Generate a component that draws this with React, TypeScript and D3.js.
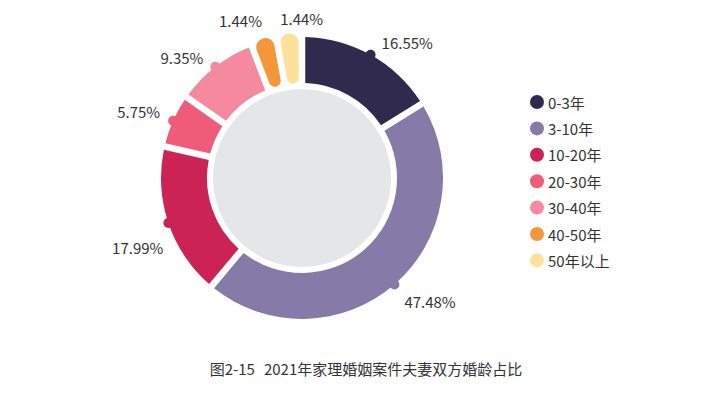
import React, { useEffect, useRef } from 'react';
import * as d3 from 'd3';

const categories = ['0-3年', '3-10年', '10-20年', '20-30年', '30-40年', '40-50年', '50年以上'];
const shares = [16.55, 47.48, 17.99, 5.75, 9.35, 1.44, 1.44];
const colors = ['#312a4f', '#857aa8', '#cc2356', '#ef5c7a', '#f589a0', '#f4963a', '#fde09a'];
const titleParts = ['图2-15', '2021年家理婚姻案件夫妻双方婚龄占比'];

// label offsets relative to the dot on each slice (layout only)
const labelNudge: [number, number, string][] = [
  [11, -12, 'start'],
  [10, 17, 'start'],
  [-5, 25, 'end'],
  [-13, -9, 'end'],
  [-12, -9, 'end'],
  [-2, -22, 'end'],
  [-9, -19, 'start'],
];

const App = () => {
  const svgRef = useRef<SVGSVGElement>(null);

  useEffect(() => {
    const svg = d3.select(svgRef.current);
    svg.selectAll('*').remove();

    const width = 719;
    const height = 397;
    const cx = 302;
    const cy = 178;
    const outerR = 141;
    const innerR = 95;
    const greyR = 89;
    const font = '"Noto Sans CJK SC", "Noto Sans", sans-serif';

    // tiny slices get a minimum angle (like minAngle in other chart libs)
    const minAngle = (8 / 360) * 2 * Math.PI;
    const minShare = (minAngle / (2 * Math.PI)) * 100;
    const small = shares.map(v => v < minShare);
    const bigTotal = d3.sum(shares.filter((v, i) => !small[i]));
    const nSmall = small.filter(Boolean).length;
    const rest = 2 * Math.PI - nSmall * minAngle;
    const weights = shares.map((v, i) => (small[i] ? minAngle : (v / bigTotal) * rest));

    const pie = d3.pie<number>()
      .sort(null)
      .value(d => d)
      .padAngle(0.05);
    const arcs = pie(weights);

    const g = svg.append('g').attr('transform', `translate(${cx},${cy})`);

    g.append('circle').attr('r', greyR).attr('fill', '#e5e6e8');

    const arc = d3.arc<d3.PieArcDatum<number>>()
      .innerRadius(innerR)
      .padRadius(130);

    g.selectAll('path.slice')
      .data(arcs)
      .join('path')
      .attr('class', 'slice')
      .attr('fill', (d, i) => colors[i])
      .attr('d', (d, i) =>
        arc.outerRadius(small[i] ? 145 : outerR).cornerRadius(small[i] ? 9 : 0)(d) as string
      );

    const mid = (d: d3.PieArcDatum<number>) => (d.startAngle + d.endAngle) / 2;
    const dotPos = (d: d3.PieArcDatum<number>) => {
      const a = mid(d);
      return [Math.sin(a) * outerR, -Math.cos(a) * outerR];
    };

    g.selectAll('circle.dot')
      .data(arcs.filter((d, i) => !small[i]))
      .join('circle')
      .attr('class', 'dot')
      .attr('cx', d => dotPos(d)[0])
      .attr('cy', d => dotPos(d)[1])
      .attr('r', 5)
      .attr('fill', d => colors[d.index]);

    g.selectAll('text.val')
      .data(arcs)
      .join('text')
      .attr('class', 'val')
      .attr('x', (d, i) => dotPos(d)[0] + labelNudge[i][0])
      .attr('y', (d, i) => dotPos(d)[1] + labelNudge[i][1])
      .attr('text-anchor', (d, i) => labelNudge[i][2])
      .attr('dominant-baseline', 'central')
      .attr('font-family', font)
      .attr('font-size', 15)
      .attr('fill', '#333')
      .text((d, i) => `${shares[i].toFixed(2)}%`);

    // legend
    const legend = svg.append('g').attr('transform', 'translate(537,102)');
    const rowH = 26.4;
    categories.forEach((c, i) => {
      const row = legend.append('g').attr('transform', `translate(0,${i * rowH})`);
      row.append('circle').attr('r', 7).attr('fill', colors[i]);
      row.append('text')
        .attr('x', 11)
        .attr('dominant-baseline', 'central')
        .attr('font-family', font)
        .attr('font-size', 15)
        .attr('fill', '#333')
        .text(c);
    });

    const t = svg.append('text')
      .attr('x', 366)
      .attr('y', 368)
      .attr('text-anchor', 'middle')
      .attr('dominant-baseline', 'central')
      .attr('font-family', font)
      .attr('font-size', 15)
      .attr('fill', '#333');
    t.append('tspan').text(titleParts[0]);
    t.append('tspan').attr('dx', 9).text(titleParts[1]);

    svg.attr('width', width).attr('height', height);
  }, []);

  return (
    <svg
      ref={svgRef}
      width={719}
      height={397}
      style={{ position: 'absolute', left: 0, top: 0, background: '#fff' }}
    />
  );
};

export default App;
